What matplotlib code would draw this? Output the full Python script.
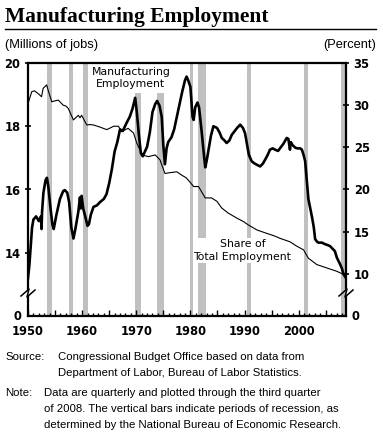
import matplotlib
matplotlib.use('Agg')
import matplotlib.pyplot as plt
from matplotlib.patches import Rectangle
from matplotlib.ticker import MultipleLocator, FixedLocator, FuncFormatter

# Manufacturing employment, millions of jobs (quarterly)
mfg_years = [1950.0, 1950.25, 1950.5, 1950.75, 1951.0, 1951.5, 1952.0, 1952.4, 1952.5, 1952.6,
             1952.85, 1953.25, 1953.5, 1953.75, 1954.1, 1954.5, 1954.75, 1955.25, 1955.9, 1956.5,
             1956.8, 1957.25, 1957.6, 1958.0, 1958.4, 1958.75, 1959.3, 1959.6, 1959.75, 1959.9,
             1960.2, 1960.5, 1961.0, 1961.25, 1961.6, 1962.1, 1962.75, 1963.3, 1964.0, 1964.5,
             1965.0, 1965.5, 1966.0, 1966.5, 1967.0, 1967.5, 1968.2, 1968.8, 1969.3, 1969.8,
             1970.1, 1970.5, 1970.85, 1971.2, 1971.6, 1972.0, 1972.5, 1973.0, 1973.5, 1973.85,
             1974.3, 1974.7, 1975.0, 1975.3, 1975.6, 1975.9, 1976.5, 1977.0, 1977.5, 1978.0,
             1978.5, 1979.0, 1979.3, 1979.6, 1980.0, 1980.4, 1980.6, 1980.9, 1981.3, 1981.6,
             1982.1, 1982.5, 1982.75, 1983.0, 1983.4, 1983.8, 1984.25, 1984.9, 1985.4, 1985.8,
             1986.3, 1986.7, 1987.2, 1987.65, 1988.2, 1988.6, 1989.2, 1989.7, 1990.1, 1990.5,
             1990.8, 1991.3, 1991.7, 1992.3, 1992.9, 1993.4, 1993.8, 1994.3, 1994.7, 1995.2,
             1995.65, 1996.2, 1996.6, 1997.2, 1997.8, 1998.1, 1998.4, 1998.55, 1998.9, 1999.4,
             1999.8, 2000.3, 2000.6, 2000.9, 2001.2, 2001.5, 2001.8, 2002.1, 2002.5, 2002.8,
             2003.05, 2003.4, 2003.65, 2004.3, 2004.9, 2005.4, 2005.8, 2006.4, 2006.7, 2007.05,
             2007.65, 2008.0, 2008.3, 2008.75]
mfg_jobs = [13.2, 13.6, 14.2, 14.8, 15.05, 15.15, 15.0, 15.15, 14.75, 15.3,
            15.9, 16.3, 16.37, 16.1, 15.5, 14.9, 14.75, 15.2, 15.7, 15.95,
            15.98, 15.9, 15.6, 14.8, 14.45, 14.75, 15.3, 15.75, 15.4, 15.8,
            15.4, 15.2, 14.85, 14.9, 15.2, 15.45, 15.5, 15.6, 15.7, 15.85,
            16.2, 16.65, 17.2, 17.5, 17.9, 17.85, 18.1, 18.3, 18.55, 18.9,
            18.45, 17.7, 17.15, 17.05, 17.2, 17.35, 17.8, 18.45, 18.7, 18.8,
            18.65, 18.3, 17.4, 16.8, 17.3, 17.5, 17.65, 17.9, 18.3, 18.7,
            19.1, 19.45, 19.57, 19.45, 19.25, 18.3, 18.2, 18.6, 18.75, 18.6,
            17.8, 17.1, 16.7, 16.9, 17.3, 17.7, 18.0, 17.95, 17.8, 17.63,
            17.55, 17.47, 17.55, 17.73, 17.85, 17.94, 18.05, 17.95, 17.78, 17.4,
            17.1, 16.9, 16.84, 16.78, 16.73, 16.82, 16.94, 17.1, 17.26, 17.3,
            17.26, 17.22, 17.31, 17.45, 17.63, 17.6, 17.26, 17.5, 17.4, 17.32,
            17.3, 17.3, 17.26, 17.1, 16.9, 16.3, 15.7, 15.45, 15.1, 14.8,
            14.43, 14.35, 14.32, 14.32, 14.27, 14.24, 14.21, 14.1, 14.05, 13.85,
            13.64, 13.5, 13.32, 13.2]

# Share of total employment, percent
share_years = [1950.0, 1950.3, 1950.7, 1951.2, 1951.6, 1952.0, 1952.5, 1952.8, 1953.45, 1953.8,
               1954.4, 1954.9, 1955.6, 1956.5, 1957.0, 1957.45, 1958.0, 1958.4, 1958.8, 1959.3,
               1959.6, 1959.9, 1960.4, 1960.85, 1961.5, 1962.1, 1963.3, 1964.55, 1965.2, 1965.8,
               1966.7, 1967.3, 1968.0, 1968.5, 1969.5, 1970.1, 1970.6, 1971.0, 1971.6, 1972.25,
               1973.5, 1974.4, 1974.9, 1975.3, 1976.25, 1977.5, 1978.4, 1979.2, 1979.9, 1980.6,
               1981.5, 1982.1, 1982.75, 1983.9, 1984.9, 1985.8, 1987.0, 1988.6, 1989.8, 1990.7,
               1992.3, 1994.1, 1995.5, 1996.6, 1998.4, 1999.6, 2000.9, 2001.8, 2003.35, 2005.2,
               2007.05, 2008.75]
share_pct = [30.2, 30.8, 31.6, 31.7, 31.5, 31.3, 31.0, 32.0, 32.4, 31.6,
             30.4, 30.5, 30.6, 30.0, 29.9, 29.6, 28.8, 28.25, 28.5, 28.8,
             28.5, 28.8, 28.2, 27.65, 27.7, 27.65, 27.4, 27.1, 27.3, 27.5,
             27.5, 26.85, 27.1, 27.25, 26.7, 25.5, 24.8, 24.3, 24.0, 23.9,
             24.1, 23.5, 22.6, 21.9, 22.0, 22.1, 21.7, 21.4, 20.9, 20.35,
             20.35, 19.7, 19.0, 19.0, 18.6, 17.8, 17.2, 16.6, 16.2, 15.8,
             15.2, 14.8, 14.5, 14.2, 13.8, 13.3, 12.85, 11.85, 11.1, 10.7,
             10.3, 9.8]

# Recessions (start, end)
rec_start = [1953.5, 1957.6, 1960.2, 1969.85, 1973.8, 1979.9, 1981.4, 1990.4, 2001.0, 2007.8]
rec_end = [1954.35, 1958.3, 1961.15, 1970.85, 1975.15, 1980.45, 1982.85, 1991.2, 2001.75, 2008.75]

left_ticks = [14, 16, 18, 20]
right_ticks = [10, 15, 20, 25, 30, 35]
decades = [1950, 1960, 1970, 1980, 1990, 2000]

W, H = 383, 440
fig = plt.figure(figsize=(W / 100, H / 100), dpi=100)

def fx(px):
    return px / W

def fy(py):
    return 1 - py / H

x0, x1, ytop, ybot = 28, 346, 63, 316
ax = fig.add_axes([fx(x0), fy(ybot), fx(x1 - x0), (ybot - ytop) / H])
ax2 = ax.twinx()

gray = '#c0c0c0'
for s, e in zip(rec_start, rec_end):
    ax.axvspan(s, e, color=gray, lw=0, zorder=0)

ax.plot(mfg_years, mfg_jobs, color='black', lw=1.9, zorder=3)
ax2.plot(share_years, share_pct, color='black', lw=0.8, zorder=3)

ax.set_xlim(1950, 2008.75)
ax.set_ylim(12, 20)
ax2.set_ylim(5, 35)

for a in (ax, ax2):
    for sp in a.spines.values():
        sp.set_visible(False)
ax.spines['top'].set_visible(True)
ax.spines['top'].set_linewidth(1.6)
ax.spines['bottom'].set_visible(True)
ax.spines['bottom'].set_linewidth(1.6)

tick_font = dict(family='DejaVu Sans', weight='bold', size=8.3)

# x axis ticks
ax.xaxis.set_major_locator(MultipleLocator(5))
ax.xaxis.set_minor_locator(MultipleLocator(1))
ax.xaxis.set_major_formatter(FuncFormatter(lambda v, p: f'{int(v)}' if int(round(v)) in decades else ''))
ax.tick_params(axis='x', which='major', direction='in', length=4, width=1, pad=6.5, top=False)
ax.tick_params(axis='x', which='minor', direction='in', length=2.5, width=1, top=False)
plt.setp(ax.get_xticklabels(), **tick_font)

# y ticks
ax.yaxis.set_major_locator(FixedLocator(left_ticks))
ax.yaxis.set_major_formatter(FuncFormatter(lambda v, p: f'{int(v)}'))
ax.tick_params(axis='y', direction='inout', length=5, width=1.2, pad=3)
plt.setp(ax.get_yticklabels(), **tick_font)
ax2.yaxis.set_major_locator(FixedLocator(right_ticks))
ax2.yaxis.set_major_formatter(FuncFormatter(lambda v, p: f'{int(v)}'))
ax2.tick_params(axis='y', direction='inout', length=5, width=1.2, pad=3)
plt.setp(ax2.get_yticklabels(), **tick_font)

# broken axes drawn by hand (pixel coordinates)
yb = 289
def draw_axis(xp):
    lw = 1.6
    fig.add_artist(plt.Line2D([fx(xp), fx(xp)], [fy(ytop), fy(yb)], color='black', lw=lw))
    fig.add_artist(plt.Line2D([fx(xp - 7), fx(xp + 1), fx(xp - 1), fx(xp + 7)],
                              [fy(yb + 7), fy(yb), fy(yb + 8), fy(yb + 1)], color='black', lw=1.1))
    fig.add_artist(plt.Line2D([fx(xp), fx(xp)], [fy(yb + 8), fy(ybot)], color='black', lw=lw))

draw_axis(x0)
draw_axis(x1)

fig.text(fx(21), fy(ybot), '0', ha='right', va='center', **tick_font)
fig.text(fx(352), fy(ybot), '0', ha='left', va='center', **tick_font)

# annotations (white patch behind the top label hides the bars)
ax.add_patch(Rectangle((1961.8, 19.05), 14.4, 0.95, facecolor='white', edgecolor='none', zorder=1))
ax.text(1969.0, 19.87, 'Manufacturing\nEmployment', ha='center', va='top', fontsize=7.8,
        family='DejaVu Sans', linespacing=1.2, zorder=4)
ax.text(1989.6, 14.45, 'Share of\nTotal Employment', ha='center', va='top', fontsize=7.8,
        family='DejaVu Sans', linespacing=1.45, zorder=4,
        bbox=dict(facecolor='white', edgecolor='none', pad=0.5))

# title and headers
fig.text(fx(5), fy(22), 'Manufacturing Employment', ha='left', va='baseline',
         family='Liberation Serif', weight='bold', fontsize=15.5)
fig.add_artist(plt.Line2D([fx(5), fx(376)], [fy(29), fy(29)], color='black', lw=1))
fig.text(fx(5), fy(45), '(Millions of jobs)', ha='left', va='center', family='Liberation Sans', fontsize=9.3)
fig.text(fx(376), fy(45), '(Percent)', ha='right', va='center', family='Liberation Sans', fontsize=9.3)

# notes
nf = dict(family='Liberation Sans', fontsize=8.2, va='center', ha='left')
fig.text(fx(5), fy(357), 'Source:', **nf)
fig.text(fx(58), fy(357), 'Congressional Budget Office based on data from', **nf)
fig.text(fx(58), fy(373), 'Department of Labor, Bureau of Labor Statistics.', **nf)
fig.text(fx(5), fy(393), 'Note:', **nf)
fig.text(fx(44), fy(393), 'Data are quarterly and plotted through the third quarter', **nf)
fig.text(fx(44), fy(409), 'of 2008. The vertical bars indicate periods of recession, as', **nf)
fig.text(fx(44), fy(425), 'determined by the National Bureau of Economic Research.', **nf)

fig.savefig('out.png', dpi=100)
